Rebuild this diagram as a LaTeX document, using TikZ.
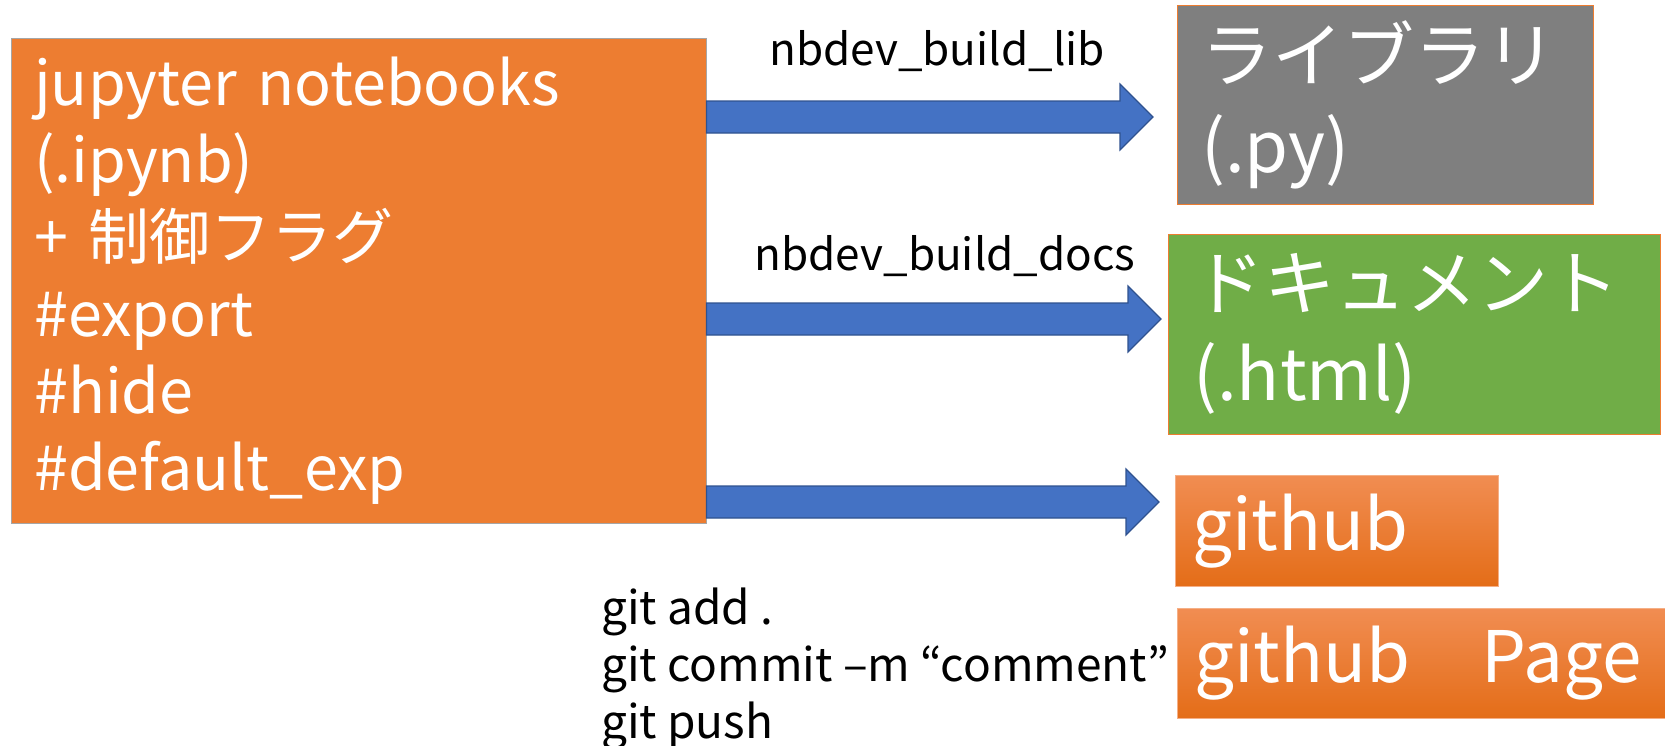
\documentclass[tikz,border=0pt]{standalone}
\usepackage{fontspec}
\setmainfont{Noto Sans CJK JP}
\usetikzlibrary{calc,positioning}

\definecolor{nbOrange}{HTML}{ED7D31}
\definecolor{libGray}{HTML}{7F7F7F}
\definecolor{docGreen}{HTML}{70AD47}
\definecolor{ghTop}{HTML}{F18D52}
\definecolor{ghBottom}{HTML}{E46D18}
\definecolor{flowBlue}{HTML}{4472C4}
\definecolor{flowEdge}{HTML}{2F528F}

\tikzset{
    srcbox/.style={draw=gray!70, fill=nbOrange, text=white, align=left,
        inner ysep=0pt, anchor=north west, font=\fontsize{61}{77}\selectfont},
    outbox/.style={draw=nbOrange, text=white, align=left, inner ysep=0pt,
        anchor=north west, font=\fontsize{71}{91}\selectfont},
    ghbox/.style={draw=ghTop!70!white, top color=ghTop, bottom color=ghBottom,
        text=white, align=left, inner ysep=0pt, anchor=north west,
        font=\fontsize{71}{90}\selectfont},
    flow/.style={fill=flowBlue, draw=flowEdge, line width=1.2pt, line join=miter},
    cmd/.style={inner sep=0pt, font=\fontsize{44}{57}\selectfont}
}

\begin{document}
\begin{tikzpicture}[x=1pt, y=-1pt]
    \useasboundingbox (0,0) rectangle (1665,745);

    % Notebook source
    \node[srcbox, minimum width=695pt, minimum height=485pt, text width=649pt,
        inner xsep=23pt] (nb) at (11,38)
        {jupyter notebooks\\(.ipynb)\\+ 制御フラグ\\\#export\\\#hide\\\#default\_exp};

    % Outputs
    \node[outbox, fill=libGray, minimum width=416pt, minimum height=199pt,
        text width=368pt, inner xsep=24pt] (lib) at (1177,5) {ライブラリ\\(.py)};
    \node[outbox, fill=docGreen, minimum width=492pt, minimum height=200pt,
        text width=442pt, inner xsep=25pt] (doc) at (1168,234) {ドキュメント\\(.html)};
    \node[ghbox, minimum width=323pt, minimum height=111pt, text width=289pt,
        inner xsep=17pt] (gh) at (1175,475) {github};
    \node[ghbox, minimum width=493pt, minimum height=110pt, text width=459pt,
        inner xsep=17pt] (ghp) at (1177,608) {github　Page};

    % Arrow tips and tails
    \coordinate (lib tip) at (1153,117);
    \coordinate (doc tip) at (1161,319);
    \coordinate (gh tip) at (1159,502);
    \coordinate (lib tail) at (nb.east |- lib tip);
    \coordinate (doc tail) at (nb.east |- doc tip);
    \coordinate (gh tail) at (nb.east |- gh tip);

    % Block arrows
    \foreach \dst in {lib, doc, gh} {
        \draw[flow] ($(\dst\space tail)+(0,-16)$) -- ($(\dst\space tip)+(-33,-16)$)
            -- ($(\dst\space tip)+(-33,-33)$) -- (\dst\space tip)
            -- ($(\dst\space tip)+(-33,33)$) -- ($(\dst\space tip)+(-33,16)$)
            -- ($(\dst\space tail)+(0,16)$) -- cycle;
    }

    % Command labels
    \node[cmd, anchor=base] (lbl lib) at (937,65) {nbdev\_build\_lib};
    \node[cmd, anchor=base] (lbl doc) at (945,270) {nbdev\_build\_docs};
    \node[cmd, anchor=north west, align=left, font=\fontsize{46}{57}\selectfont]
        (git) at (601,588) {git add .\\git commit –m “comment”\\git push};
\end{tikzpicture}
\end{document}
